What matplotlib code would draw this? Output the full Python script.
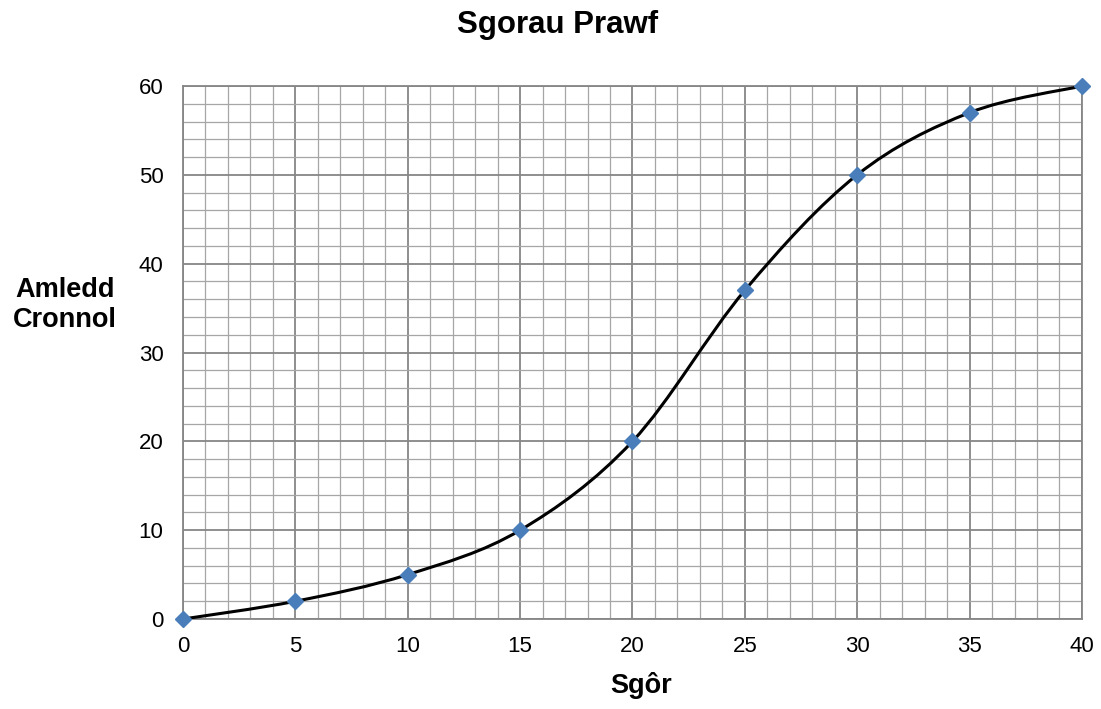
import numpy as np
import matplotlib.pyplot as plt
from matplotlib.path import Path
from matplotlib.patches import PathPatch

plt.rcParams['font.family'] = ['Liberation Sans', 'DejaVu Sans']

score = [0, 5, 10, 15, 20, 25, 30, 35, 40]
cum_freq = [0, 2, 5, 10, 20, 37, 50, 57, 60]

fig = plt.figure(figsize=(11.01, 7.09), dpi=100)
ax = fig.add_axes([0.1662, 0.1269, 0.8165, 0.7518])

ax.set_xlim(0, 40)
ax.set_ylim(0, 60)
ax.set_xticks(range(0, 41, 5))
ax.set_yticks(range(0, 61, 10))
ax.set_xticks(range(0, 41, 1), minor=True)
ax.set_yticks(range(0, 61, 2), minor=True)
ax.grid(which='major', color='#868686', lw=1.3)
ax.grid(which='minor', color='#a6a6a6', lw=0.9)
ax.set_axisbelow(True)
ax.tick_params(which='both', length=0, labelsize=16, colors='black')
ax.tick_params(axis='x', pad=12)
ax.tick_params(axis='y', pad=14)
for s in ax.spines.values():
    s.set_color('#868686')
    s.set_linewidth(1.3)

# Excel-style smoothed line (Catmull-Rom as cubic Bezier)
x = np.array(score, float)
y = np.array(cum_freq, float)
verts = [(x[0], y[0])]
codes = [Path.MOVETO]
n = len(x)
for i in range(n - 1):
    p0 = (x[max(i - 1, 0)], y[max(i - 1, 0)])
    p1 = (x[i], y[i])
    p2 = (x[i + 1], y[i + 1])
    p3 = (x[min(i + 2, n - 1)], y[min(i + 2, n - 1)])
    t = 1 / 6
    c1 = (p1[0] + (p2[0] - p0[0]) * t, p1[1] + (p2[1] - p0[1]) * t)
    c2 = (p2[0] - (p3[0] - p1[0]) * t, p2[1] - (p3[1] - p1[1]) * t)
    verts += [c1, c2, p2]
    codes += [Path.CURVE4] * 3
ax.add_patch(PathPatch(Path(verts, codes), fill=False, edgecolor='black', lw=2.2, zorder=3))

ax.plot(score, cum_freq, ls='none', marker='D', ms=8.5, color='#4a7ebb', zorder=4, clip_on=False)

fig.text(0.506, 0.9535, 'Sgorau Prawf', ha='center', va='baseline', fontsize=22.5, fontweight='bold')
fig.text(0.582, 0.0226, 'Sgôr', ha='center', va='baseline', fontsize=19.5, fontweight='bold')
fig.text(0.059, 0.570, 'Amledd\nCronnol', ha='center', va='center', fontsize=19.5, fontweight='bold', linespacing=1.2)

fig.savefig('out.png', dpi=100)
